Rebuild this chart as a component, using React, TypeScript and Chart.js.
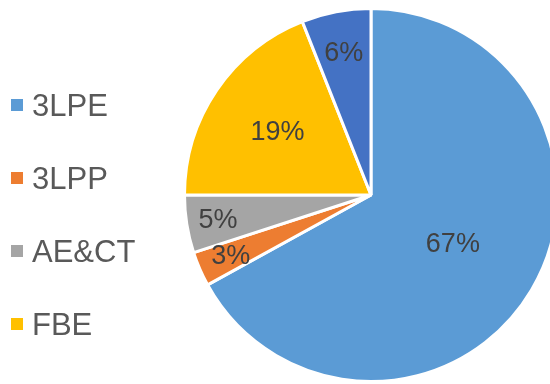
import React, { useEffect, useRef } from "react";
import { Chart, registerables } from "chart.js";

Chart.register(...registerables);

const categories = ["3LPE", "3LPP", "AE&CT", "FBE", "Other"];
const shares = [67, 3, 5, 19, 6];
const colors = ["#5B9BD5", "#ED7D31", "#A5A5A5", "#FFC000", "#4472C4"];
// radial position of each percentage label, as a fraction of the radius
const labelRadius = [0.51, 0.82, 0.83, 0.606, 0.78];

const FONT = "'Liberation Sans', Arial, sans-serif";

const labelPlugin = {
  id: "sliceLabels",
  afterDatasetsDraw(chart: any) {
    const ctx = chart.ctx;
    const meta = chart.getDatasetMeta(0);
    ctx.save();
    ctx.fillStyle = "#404040";
    ctx.font = `27px ${FONT}`;
    ctx.textAlign = "center";
    ctx.textBaseline = "middle";
    meta.data.forEach((arc: any, i: number) => {
      const { startAngle, endAngle, x, y, outerRadius } = arc.getProps(
        ["startAngle", "endAngle", "x", "y", "outerRadius"],
        true
      );
      const mid = (startAngle + endAngle) / 2;
      const r = outerRadius * labelRadius[i];
      ctx.fillText(`${shares[i]}%`, x + Math.cos(mid) * r, y + Math.sin(mid) * r + 1);
    });
    ctx.restore();
  },
};

const legendPlugin = {
  id: "sideLegend",
  afterDraw(chart: any) {
    const ctx = chart.ctx;
    ctx.save();
    ctx.font = `31px ${FONT}`;
    ctx.textAlign = "left";
    ctx.textBaseline = "alphabetic";
    categories.forEach((name, i) => {
      const base = 116 + i * 73;
      ctx.fillStyle = colors[i];
      ctx.fillRect(11, base - 17, 12, 12);
      ctx.fillStyle = "#595959";
      ctx.fillText(name, 32, base);
    });
    ctx.restore();
  },
};

export default function App() {
  const ref = useRef<HTMLCanvasElement | null>(null);
  useEffect(() => {
    if (!ref.current) return;
    const chart = new Chart(ref.current, {
      type: "pie",
      data: {
        labels: categories,
        datasets: [
          {
            data: shares,
            backgroundColor: colors,
            borderColor: "#ffffff",
            borderWidth: 3,
          },
        ],
      },
      options: {
        responsive: false,
        animation: false,
        layout: { padding: { top: 7, bottom: 7, left: 0, right: 0 } },
        plugins: {
          legend: { display: false },
          tooltip: { enabled: false },
        },
      },
      plugins: [labelPlugin, legendPlugin],
    });
    return () => chart.destroy();
  }, []);
  return (
    <div
      style={{
        position: "fixed",
        left: 0,
        top: 0,
        width: 550,
        height: 384,
        overflow: "hidden",
        background: "#ffffff",
      }}
    >
      <canvas ref={ref} width={742} height={390} style={{ display: "block" }} />
    </div>
  );
}
